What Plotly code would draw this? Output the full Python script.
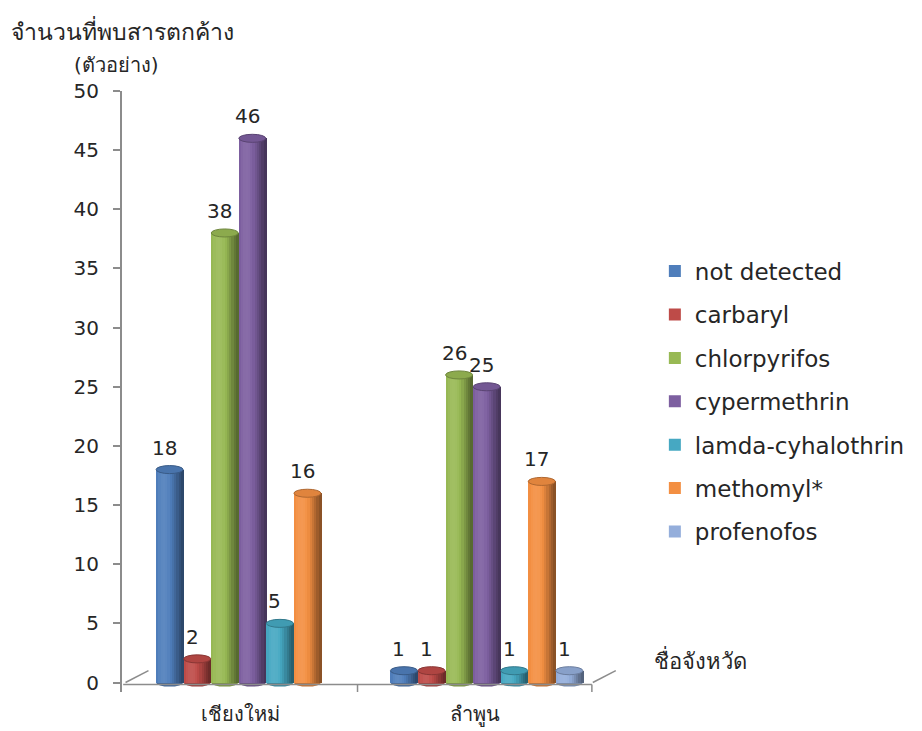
import math
import plotly.graph_objects as go

# --- data ---------------------------------------------------------------
provinces = ["เชียงใหม่", "ลำพูน"]
substances = ["not detected", "carbaryl", "chlorpyrifos", "cypermethrin",
              "lamda-cyhalothrin", "methomyl*", "profenofos"]
not_detected = [18, 1]
carbaryl = [2, 1]
chlorpyrifos = [38, 26]
cypermethrin = [46, 25]
lamda_cyhalothrin = [5, 1]
methomyl = [16, 17]
profenofos = [None, 1]
series_values = [not_detected, carbaryl, chlorpyrifos, cypermethrin,
                 lamda_cyhalothrin, methomyl, profenofos]
y_ticks = [0, 5, 10, 15, 20, 25, 30, 35, 40, 45, 50]

# --- styling ------------------------------------------------------------
colors = ["#4F7EBB", "#BE4B48", "#98B954", "#7D5FA0", "#46A8C2", "#F38F42", "#94AEDB"]
FONT = "DejaVu Sans"
TEXT = "#262626"
AXIS = "#8C8C8C"
SLOT = 0.1176      # width of one bar slot, in category units
SHIFT = 0.051      # depth offset of the bars behind the floor edge
BAR_W = SLOT * 0.98
N_STRIPS = 12
CAP = 0.34         # half height of the cylinder caps, in value units


def to_rgb(h):
    h = h.lstrip("#")
    return [int(h[i:i + 2], 16) for i in (0, 2, 4)]


def shade(h, f):
    r = to_rgb(h)
    if f >= 1:
        a = f - 1
        r = [c + (255 - c) * a for c in r]
    else:
        r = [c * f for c in r]
    return "rgb(%d,%d,%d)" % tuple(max(0, min(255, round(c))) for c in r)


def light(t):
    # brightness across the cylinder, t from left (0) to right (1)
    return 0.86 + 0.26 * math.cos((t - 0.32) * math.pi * 1.15) - 0.12 * t


fig = go.Figure()
shapes = []
annotations = []

for k, (name, vals, col) in enumerate(zip(substances, series_values, colors)):
    xs = [g + (k - 3) * SLOT + SHIFT for g in range(len(provinces))]
    fig.add_trace(go.Bar(
        x=xs, y=vals, width=BAR_W, name=name, marker_color=col,
        marker_line_width=0, legendgroup=name, hoverinfo="name+y",
    ))
    # vertical shading strips give the cylinder look
    sw = BAR_W / N_STRIPS
    for s in range(N_STRIPS):
        t = (s + 0.5) / N_STRIPS
        off = -BAR_W / 2 + s * sw
        fig.add_trace(go.Bar(
            x=xs, y=vals, width=sw * 1.35, offset=off,
            marker_color=shade(col, light(t)), marker_line_width=0,
            showlegend=False, legendgroup=name, hoverinfo="skip",
        ))
    for x, v in zip(xs, vals):
        if v is None:
            continue
        # bottom and top ellipses of the cylinder
        shapes.append(dict(type="circle", xref="x", yref="y", layer="below",
                           x0=x - BAR_W / 2, x1=x + BAR_W / 2, y0=-CAP, y1=CAP,
                           fillcolor=shade(col, 0.8), line=dict(width=0)))
        shapes.append(dict(type="circle", xref="x", yref="y", layer="above",
                           x0=x - BAR_W / 2, x1=x + BAR_W / 2, y0=v - CAP, y1=v + CAP,
                           fillcolor=shade(col, 0.92), line=dict(color=shade(col, 0.72), width=1)))
        annotations.append(dict(x=x, y=v, xref="x", yref="y", text=str(v),
                                showarrow=False, yanchor="bottom", yshift=8, xshift=-5,
                                font=dict(family=FONT, size=20, color=TEXT)))

# floor outline of the 3D frame
floor = dict(color=AXIS, width=1.5)
shapes += [
    dict(type="line", xref="x", yref="y", x0=-0.5, x1=1.5, y0=-0.17, y1=-0.17, line=floor, layer="below"),
    dict(type="line", xref="x", yref="y", x0=0.5, x1=0.5, y0=-0.17, y1=-0.8, line=floor),
    dict(type="line", xref="x", yref="y", x0=1.5, x1=1.5, y0=-0.17, y1=-0.8, line=floor),
    dict(type="line", xref="x", yref="y", x0=-0.49, x1=-0.392, y0=0.0, y1=1.0, line=floor, layer="below"),
    dict(type="line", xref="x", yref="y", x0=1.504, x1=1.602, y0=0.0, y1=1.0, line=floor, layer="below"),
]

annotations += [
    dict(xref="paper", yref="paper", x=-0.226, y=1.101, xanchor="left", yanchor="middle",
         text="จำนวนที่พบสารตกค้าง", showarrow=False,
         font=dict(family=FONT, size=23, color=TEXT)),
    dict(xref="paper", yref="paper", x=-0.1, y=1.043, xanchor="left", yanchor="middle",
         text="(ตัวอย่าง)", showarrow=False,
         font=dict(family=FONT, size=20, color=TEXT)),
    dict(xref="paper", yref="paper", x=1.064, y=0.054, xanchor="left", yanchor="middle",
         text="ชื่อจังหวัด", showarrow=False,
         font=dict(family=FONT, size=22, color=TEXT)),
]

fig.update_layout(
    width=922, height=731,
    margin=dict(l=122, r=300, t=91, b=38.5),
    paper_bgcolor="white", plot_bgcolor="white",
    barmode="overlay", bargap=0,
    showlegend=True,
    legend=dict(x=1.07, y=0.736, xanchor="left", yanchor="top",
                font=dict(family=FONT, size=23, color=TEXT),
                tracegroupgap=10.5, itemwidth=30, bgcolor="rgba(0,0,0,0)"),
    shapes=shapes, annotations=annotations,
    xaxis=dict(range=[-0.505, 1.62], tickvals=[0, 1], ticktext=provinces,
               showline=False, showgrid=False, zeroline=False, ticks="",
               ticklabelstandoff=8, automargin=False,
               tickfont=dict(family=FONT, size=20, color=TEXT)),
    yaxis=dict(range=[-0.8, 50], tickvals=y_ticks, showgrid=False, zeroline=False,
               showline=True, linecolor=AXIS, linewidth=2, automargin=False,
               ticks="outside", ticklen=7, tickcolor=AXIS, tickwidth=2,
               ticklabelstandoff=10,
               tickfont=dict(family=FONT, size=20, color=TEXT)),
)

fig.write_html("out.html")
